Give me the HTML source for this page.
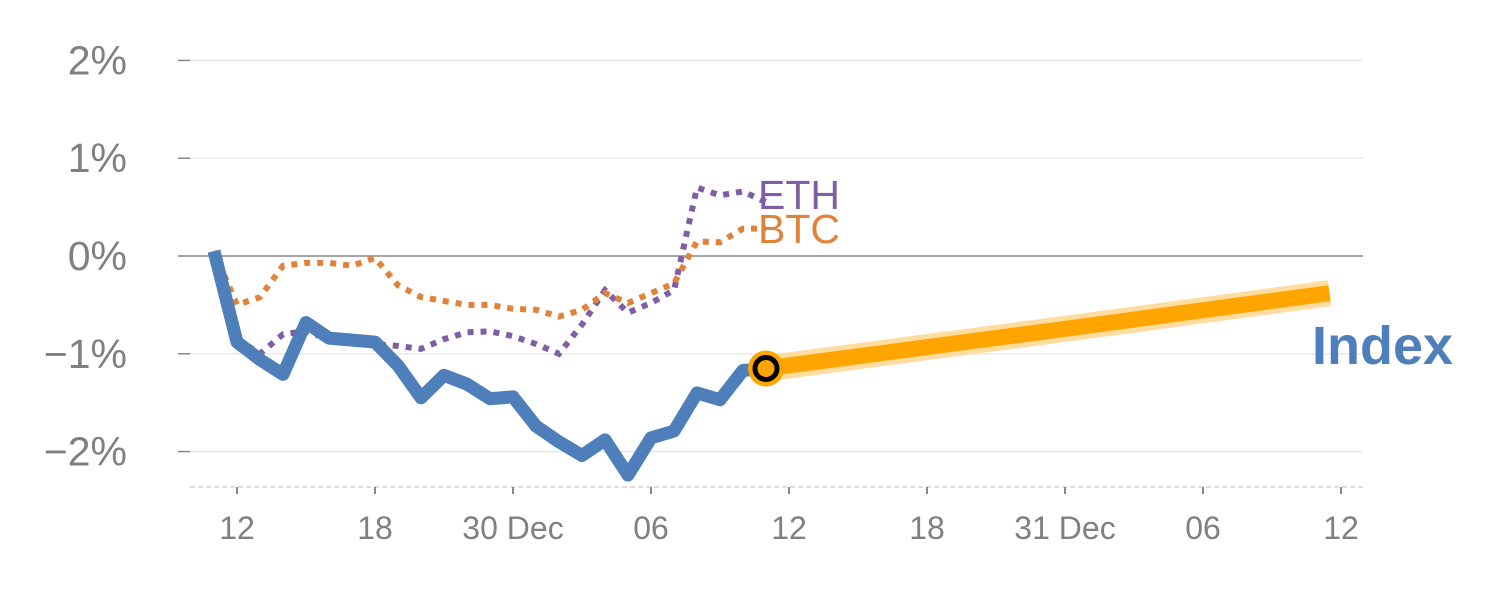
<!DOCTYPE html>
<html><head><meta charset="utf-8"><style>
html,body{margin:0;padding:0;background:#fff;width:1500px;height:600px;overflow:hidden}
svg{display:block;font-family:"Liberation Sans",sans-serif}
</style></head><body>
<svg id="chart" width="1500" height="600"></svg>
<script>
const units = [11,12,13,14,15,16,17,18,19,20,21,22,23,24,25,26,27,28,29,30,31,32,33,34,35];
const indexVals = [0.05,-0.88,-1.06,-1.21,-0.68,-0.84,-0.86,-0.88,-1.12,-1.45,-1.22,-1.31,-1.46,-1.44,-1.74,-1.90,-2.04,-1.88,-2.24,-1.86,-1.79,-1.40,-1.47,-1.17,-1.15];
const btcVals = [0.05,-0.50,-0.42,-0.10,-0.07,-0.07,-0.10,-0.02,-0.30,-0.42,-0.46,-0.50,-0.50,-0.54,-0.55,-0.62,-0.55,-0.38,-0.48,-0.38,-0.28,0.15,0.14,0.28,0.28];
const ethVals = [0.05,-0.85,-1.00,-0.80,-0.77,-0.85,-0.87,-0.90,-0.92,-0.95,-0.85,-0.78,-0.77,-0.82,-0.90,-1.00,-0.70,-0.35,-0.58,-0.48,-0.35,0.70,0.62,0.66,0.55];
const fcUnits = [35,48.8,59.5];
const fcVals = [-1.15,-0.72,-0.38];
const yTicks = [2,1,0,-1,-2];
const yTickLabels = ["2%","1%","0%","\u22121%","\u22122%"];
const xTicks = [12,18,24,30,36,42,48,54,60];
const xTickLabels = ["12","18","30 Dec","06","12","18","31 Dec","06","12"];

const NS="http://www.w3.org/2000/svg";
const svg=document.getElementById('chart');
const X=u=>237+(u-12)*23;
const Y=v=>256-v*97.8;
function mk(tag,attrs,parent){const e=document.createElementNS(NS,tag);for(const k in attrs)e.setAttribute(k,attrs[k]);(parent||svg).appendChild(e);return e;}

yTicks.forEach((t,i)=>{
  const g=mk('g',{});
  
  
  mk('line',{x1:190,x2:1363,y1:Y(t),y2:Y(t),stroke:t===0?'#888':'#e3e3e3','stroke-width':t===0?1.5:1.2},g);
  mk('line',{x1:178,x2:190,y1:Y(t),y2:Y(t),stroke:'#888','stroke-width':1.5},g);
  const tx=mk('text',{x:127,y:Y(t)+14,'text-anchor':'end','font-size':41,fill:'#808080'},g);
  tx.textContent=yTickLabels[i];
  
  
});
const base=mk('line',{x1:190,x2:1366,y1:487,y2:487,stroke:'#ddd','stroke-width':2,'stroke-dasharray':'5 3'});


xTicks.forEach((t,i)=>{
  const g=mk('g',{});
  
  
  mk('line',{x1:X(t),x2:X(t),y1:487,y2:494,stroke:'#888','stroke-width':2},g);
  const tx=mk('text',{x:X(t),y:539,'text-anchor':'middle','font-size':32,fill:'#808080'},g);
  tx.textContent=xTickLabels[i];
});
function pts(us,vs){return us.map((u,i)=>X(u)+','+Y(vs[i])).join(' ');}
const eth=mk('polyline',{points:pts(units,ethVals),fill:'none',stroke:'#7f5fa3','stroke-width':6,'stroke-dasharray':'6 7'});


const btc=mk('polyline',{points:pts(units,btcVals),fill:'none',stroke:'#e0823a','stroke-width':6,'stroke-dasharray':'6 7'});


const idx=mk('polyline',{points:pts(units,indexVals),fill:'none',stroke:'#4e7fbb','stroke-width':13,'stroke-linejoin':'round'});


const fcg=mk('polyline',{points:pts(fcUnits,fcVals),fill:'none',stroke:'#ffdca0','stroke-width':26,'stroke-linejoin':'round'});


const fc=mk('polyline',{points:pts(fcUnits,fcVals),fill:'none',stroke:'#ffa500','stroke-width':16,'stroke-linejoin':'round'});


const last=units.length-1;
const m=mk('circle',{cx:X(units[last]),cy:Y(indexVals[last]),r:18,fill:'#ffa500'});


mk('circle',{cx:X(units[last]),cy:Y(indexVals[last]),r:11,fill:'#ffa500',stroke:'#000','stroke-width':5});
const le=mk('text',{x:758,y:209,'font-size':41,fill:'#7f5fa3'});le.textContent='ETH';


const lb=mk('text',{x:758,y:243,'font-size':41,fill:'#e0823a'});lb.textContent='BTC';


const li=mk('text',{x:1312,y:364,'font-size':54,'font-weight':'bold',fill:'#4e7fbb'});li.textContent='Index';


</script>
</body></html>
